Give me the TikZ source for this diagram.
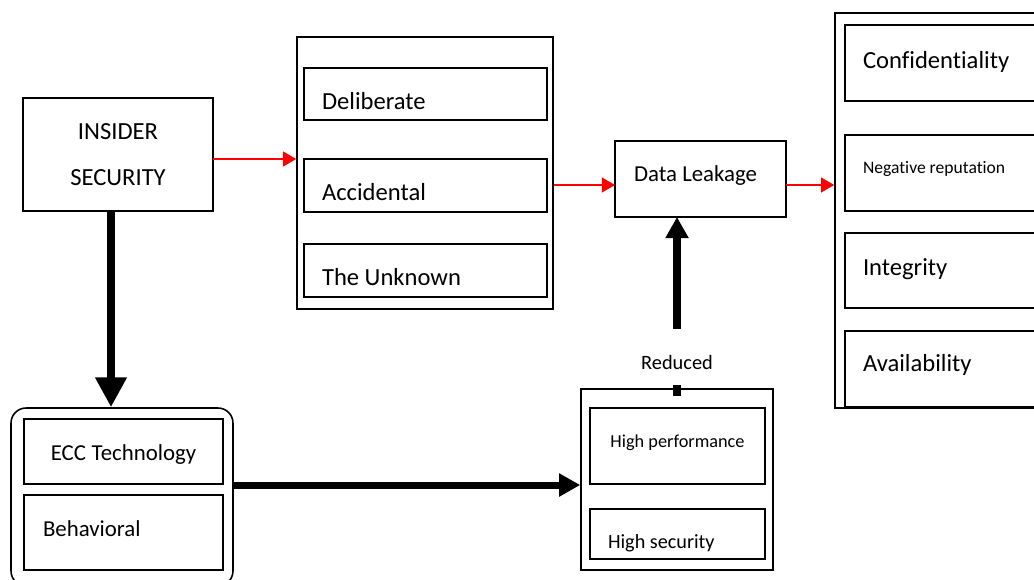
\documentclass[tikz,border=0pt]{standalone}
\usepackage{fontspec}
\setmainfont{Carlito}[Ligatures=NoCommon]
\usetikzlibrary{arrows.meta, positioning}

\begin{document}
\begin{tikzpicture}[
    x=0.02cm, y=-0.02cm,
    execute at begin node={\spaceskip=0pt\xspaceskip=0pt\relax},
    groupbox/.style={rectangle, draw, line width=0.9pt},
    itembox/.style={rectangle, draw, line width=1.1pt, outer sep=0pt, inner ysep=0pt, inner xsep=0.36cm, align=left},
    lift/.style={text height=#1, text depth=0pt},
    bigfont/.style={font=\fontsize{14}{17}\selectfont},
    midfont/.style={font=\fontsize{13}{16}\selectfont},
    smallfont/.style={font=\fontsize{10.4}{12}\selectfont},
    redarrow/.style={red, line width=0.8pt, -{Triangle[length=7.5pt, width=8.5pt]}},
    fatarrow/.style={line width=4pt, -{Triangle[length=12pt, width=12.5pt]}},
    bigarrow/.style={line width=5pt, -{Triangle[length=17pt, width=17pt]}},
    reduced/.style={fill=white, inner sep=0pt, minimum height=1.12cm, minimum width=1.6cm, font=\fontsize{11.6}{14}\selectfont}
]
\path[use as bounding box, clip] (0,0) rectangle (1034,579);

% Source
\node[itembox, align=center, inner xsep=0pt, minimum width=3.8cm, minimum height=2.26cm, font=\fontsize{14}{26.4}\selectfont] (insider) at (118,154.5) {INSIDER\\SECURITY};

% Kinds of insider
\node[groupbox, minimum width=5.12cm, minimum height=5.44cm] (kinds) at (425,173) {};
\node[itembox, bigfont, text width=4.14cm, minimum height=1.04cm, lift=18pt] (delib) at (425.5,94) {Deliberate};
\node[itembox, bigfont, text width=4.14cm, minimum height=1.06cm, lift=17pt, below=0.78cm of delib] (accid) {Accidental};
\node[itembox, bigfont, text width=4.14cm, minimum height=1.06cm, lift=17.6pt, below=0.64cm of accid] (unknown) {The Unknown};

% Leakage
\node[itembox, midfont, inner xsep=0.38cm, text width=2.66cm, minimum height=1.52cm, lift=3pt] (leak) at (700.5,179) {Data Leakage};

% Impact
\node[groupbox, minimum width=4.5cm, minimum height=7.9cm] (impact) at (947.5,210.5) {};
\node[itembox, bigfont, text width=3.38cm, minimum height=1.52cm, lift=6pt] (conf) at (947.5,63) {Confidentiality};
\node[itembox, font=\fontsize{10}{12}\selectfont, text width=3.38cm, minimum height=1.52cm, lift=1.1pt, below=0.68cm of conf] (negrep) {Negative reputation};
\node[itembox, bigfont, text width=3.38cm, minimum height=1.5cm, lift=6.2pt, below=0.44cm of negrep] (integ) {Integrity};
\node[itembox, bigfont, text width=3.38cm, minimum height=1.52cm, lift=3pt, below=0.46cm of integ] (avail) {Availability};

% Method
\node[groupbox, rounded corners=0.3cm, minimum width=4.44cm, minimum height=3.56cm] (method) at (122,497) {};
\node[itembox, midfont, align=center, text width=3.26cm, minimum height=1.3cm, lift=10.2pt] (ecc) at (123.5,451.5) {ECC Technology};
\node[itembox, midfont, inner xsep=0.38cm, text width=3.22cm, minimum height=1.5cm, lift=4.5pt, below=0.22cm of ecc] (behav) {Behavioral};

% Result
\node[groupbox, minimum width=3.84cm, minimum height=3.62cm] (result) at (677,479.5) {};
\node[itembox, smallfont, align=center, text width=2.78cm, minimum height=1.52cm, lift=1.5pt] (perf) at (677.5,446) {High performance};
\node[itembox, font=\fontsize{11.5}{14}\selectfont, text width=2.78cm, minimum height=1.0cm, lift=16pt, below=0.5cm of perf] (secur) {High security};

% Arrows
\draw[redarrow] ([yshift=-0.09cm]insider.east) -- ([yshift=-0.09cm]insider.east -| kinds.west);
\coordinate (leakin) at ([yshift=-0.12cm]leak.west);
\draw[redarrow] (kinds.east |- leakin) -- (leakin);
\draw[redarrow] ([yshift=-0.12cm]leak.east) -- ([yshift=-0.12cm]leak.east -| impact.west);
\draw[bigarrow] ([xshift=-0.14cm]insider.south) -- ([xshift=-0.14cm]insider.south |- method.north);
\draw[fatarrow] ([yshift=0.24cm]method.east) -- ([yshift=0.24cm]method.east -| result.west);
\draw[fatarrow] ([yshift=-0.16cm]result.north) -- node[reduced, lift=14.7pt, pos=0.22] (reducedlbl) {Reduced} (result.north |- leak.south);
\end{tikzpicture}
\end{document}
